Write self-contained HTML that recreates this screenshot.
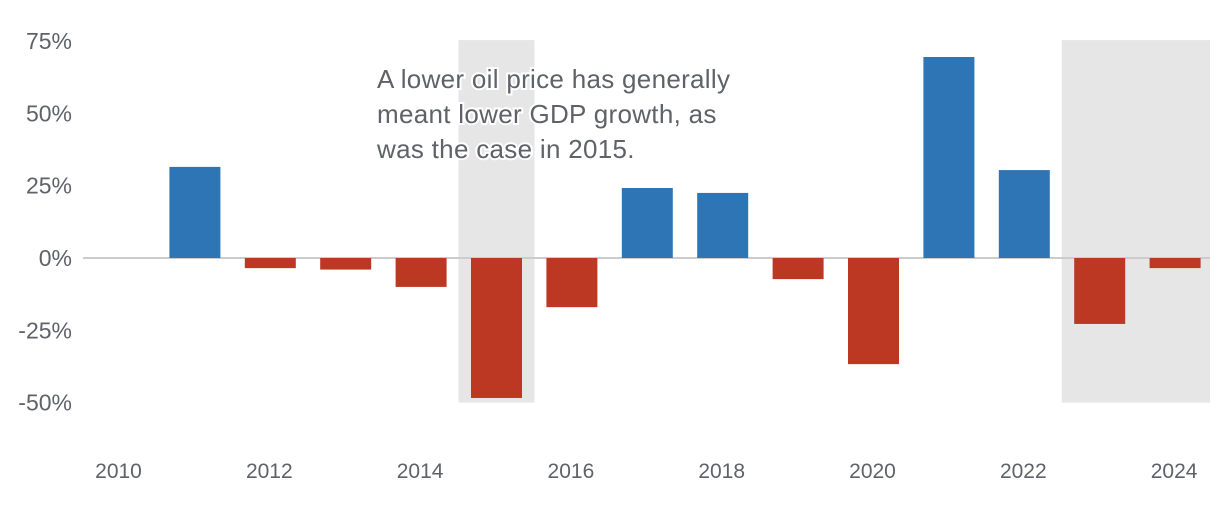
<!DOCTYPE html>
<html><head><meta charset="utf-8"><style>
body{margin:0;background:#fff;width:1220px;height:504px;overflow:hidden;font-family:"Liberation Sans",sans-serif}
svg text{font-family:"Liberation Sans",sans-serif;fill:#5f6268}
</style></head><body>
<svg id="chart" width="1220" height="504" xmlns="http://www.w3.org/2000/svg"></svg>
<script>
const years=[2010,2011,2012,2013,2014,2015,2016,2017,2018,2019,2020,2021,2022,2023,2024];
const values=[null,31.5,-3.5,-4,-10,-48.4,-17,24.2,22.5,-7.3,-36.7,69.5,30.4,-22.8,-3.5];
const yTicks=[75,50,25,0,-25,-50];
const xTicks=[2010,2012,2014,2016,2018,2020,2022,2024];
const shadedYears=[[2015,2015],[2023,2024]];
const NS="http://www.w3.org/2000/svg";
const svg=document.getElementById('chart');
const x=y=>119.5+(y-2010)*75.4;
const yS=v=>258-v*72.3/25;
function mk(t,a){const e=document.createElementNS(NS,t);for(const k in a)e.setAttribute(k,a[k]);svg.appendChild(e);return e;}
shadedYears.forEach(s=>{
  const x0=x(s[0])-38,x1=Math.min(x(s[1])+38,1210);
  const r=mk('rect',{x:x0,y:yS(75)-1,width:x1-x0,height:yS(-50)-yS(75)+1,fill:'#e6e6e6'});
  
  
});
const zl=mk('line',{x1:83,x2:1210,y1:yS(0),y2:yS(0),stroke:'#cccccc','stroke-width':2});


yTicks.forEach(t=>{
  const e=mk('text',{x:72,y:yS(t)+8,'text-anchor':'end','font-size':23});
  e.textContent=t+'%';
  
  
});
xTicks.forEach(t=>{
  const e=mk('text',{x:x(t)-1,y:478,'text-anchor':'middle','font-size':21});
  e.textContent=t;
  
  
});
years.forEach((yr,i)=>{
  const v=values[i];if(v==null)return;
  const y0=yS(Math.max(v,0)),y1=yS(Math.min(v,0));
  const b=mk('rect',{x:x(yr)-25.5,y:y0,width:51,height:y1-y0,fill:v>=0?'#2e75b6':'#bc3823'});
  
  
});
const lines=['A lower oil price has generally','meant lower GDP growth, as','was the case in 2015.'];
lines.forEach((l,i)=>{
  const e=mk('text',{x:377,y:88+i*35,'font-size':26,'letter-spacing':0.3,stroke:'#fff','stroke-width':4,'paint-order':'stroke'});
  e.textContent=l;
  
  
});
</script>
</body></html>
